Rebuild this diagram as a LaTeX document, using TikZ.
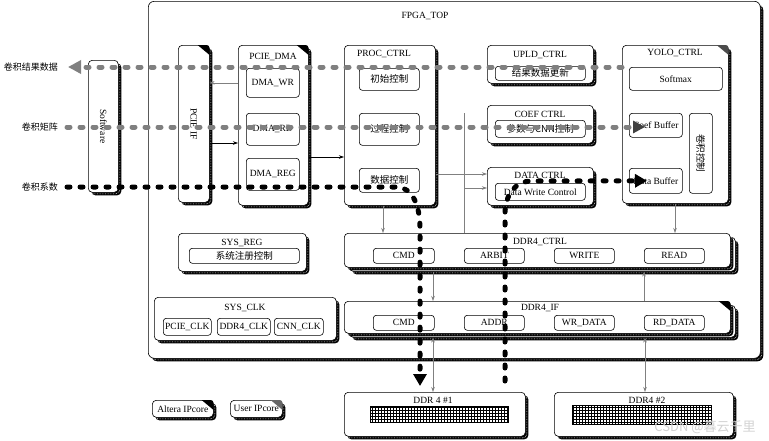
\documentclass[tikz,border=0pt]{standalone}
\usepackage{fontspec}
\setmainfont{Liberation Serif}
\newfontfamily\cjk{Noto Sans CJK SC}
\usepackage{tikz}
\usetikzlibrary{arrows.meta, positioning, shadows, patterns, calc}

% marca de IP en la esquina
\newcommand{\ipmark}[2]{%
  \fill[#2] ([xshift=-12pt]#1.north east) -- ([xshift=-3pt]#1.north east)
    to[out=0,in=90] ([yshift=-3pt]#1.north east) -- ([yshift=-10pt]#1.north east) -- cycle;}

\begin{document}
\begin{tikzpicture}[x=1pt, y=-1pt,
    font=\fontsize{9.5}{11}\selectfont,
    shd/.style={general shadow={shadow xshift=3pt, shadow yshift=-3pt, fill=black},
                general shadow={shadow xshift=1.5pt, shadow yshift=-1.5pt, draw=white, densely dotted, line width=0.6pt}},
    sz/.style 2 args={minimum width=#1pt, minimum height=#2pt},
    blk/.style={draw, line width=0.6pt, rounded corners=4pt, fill=white, shd, anchor=north west, inner sep=0pt},
    sub/.style={draw, line width=0.6pt, rounded corners=3pt, fill=white, anchor=north west, inner sep=0pt},
    ttl/.style={inner sep=0pt},
    garr/.style={draw=gray, line width=0.6pt, -{Stealth[length=5pt,width=3.5pt]}},
    barr/.style={draw=black, line width=0.6pt, -{Stealth[length=5pt,width=3.5pt]}},
    flow/.style={line width=5pt, line cap=round, dash pattern=on 3pt off 10pt},
]
\useasboundingbox (0,0) rectangle (769,440);

% Bloque principal
\node[blk, sz={612}{357}, rounded corners=6pt] (top) at (148,1) {};
\node[ttl] (topt) at (425,16) {FPGA\_TOP};

% Etiquetas de la izquierda
\node[ttl, anchor=east, font=\cjk\fontsize{9}{10}\selectfont] (lab1) at (58,67) {卷积结果数据};
\node[ttl, anchor=east, font=\cjk\fontsize{9}{10}\selectfont] (lab2) at (58,127) {卷积矩阵};
\node[ttl, anchor=east, font=\cjk\fontsize{9}{10}\selectfont] (lab3) at (58,187) {卷积系数};

% Software y PCIE
\node[blk, sz={30}{132}] (sw) at (88,60) {};
\node[ttl, rotate=-90] (swt) at (sw.center) {Software};
\node[blk, sz={31}{157}] (pcie) at (178,45) {};
\node[ttl, rotate=-90] (pciet) at (pcie.center) {PCIE IF};
\ipmark{pcie}{black}

\node[blk, sz={70}{160}] (dma) at (238,45) {};
\node[ttl] (dmat) at (273,57) {PCIE\_DMA};
\ipmark{dma}{black}
\node[sub, sz={53}{29}] (dmawr) at (246,68) {DMA\_WR};
\node[sub, sz={53}{32}] (dmard) at (246,113) {DMA\_RD};
\node[sub, sz={53}{32}] (dmareg) at (246,158) {DMA\_REG};

% PROC_CTRL
\node[blk, sz={91}{160}] (proc) at (344,45) {};
\node[ttl] (proct) at (384,54) {PROC\_CTRL};
\node[sub, sz={60}{22}, font=\cjk\fontsize{9.5}{11}\selectfont] (init) at (359,68) {初始控制};
\node[sub, sz={60}{32}, font=\cjk\fontsize{9.5}{11}\selectfont] (prcs) at (359,113) {过程控制};
\node[sub, sz={60}{24}, font=\cjk\fontsize{9.5}{11}\selectfont] (dctl) at (359,168) {数据控制};

% Controladores intermedios
\node[blk, sz={106}{38}] (upld) at (487,45) {};
\node[ttl] (upldt) at (540,55) {UPLD\_CTRL};
\node[sub, sz={90}{14}, font=\cjk\fontsize{9.5}{11}\selectfont] (upldi) at (495,66) {结果数据更新};
\node[blk, sz={106}{38}] (coef) at (487,105) {};
\node[ttl] (coeft) at (540,114) {COEF CTRL};
\node[sub, sz={90}{17}, font=\cjk\fontsize{9.5}{11}\selectfont] (coefi) at (495,120) {参数与CNN控制};
\node[blk, sz={106}{38}] (data) at (487,167) {};
\node[ttl] (datat) at (540,175) {DATA CTRL};
\node[sub, sz={90}{17}] (datai) at (495,183) {Data Write Control};

% YOLO_CTRL
\node[blk, sz={106}{158}] (yolo) at (622,45) {};
\node[ttl] (yolot) at (675,53) {YOLO\_CTRL};
\ipmark{yolo}{black!70}
\node[sub, sz={93}{23}] (smax) at (629,67) {Softmax};
\node[sub, sz={53}{24}] (cbuf) at (629,113) {Coef Buffer};
\node[sub, sz={53}{25}] (dbuf) at (629,168) {Data Buffer};
\node[sub, sz={23}{80}] (cnv) at (689,113) {};
\node[ttl, rotate=-90, font=\cjk\fontsize{9.5}{11}\selectfont] (cnvt) at (cnv.center) {卷积控制};

% SYS_REG y SYS_CLK
\node[blk, sz={128}{38}] (sreg) at (178,233) {};
\node[ttl] (sregt) at (242,243) {SYS\_REG};
\node[sub, sz={110}{15}, font=\cjk\fontsize{9.5}{11}\selectfont] (sregi) at (189,248) {系统注册控制};
\node[blk, sz={182}{43}] (sclk) at (154,297) {};
\node[ttl] (sclkt) at (245,308) {SYS\_CLK};
\node[sub, sz={48}{17}] (pclk) at (163,318) {PCIE\_CLK};
\node[sub, sz={53}{17}] (dclk) at (217,318) {DDR4\_CLK};
\node[sub, sz={49}{17}] (cclk) at (274,318) {CNN\_CLK};

% DDR4 CTRL / IF
\node[blk, sz={386}{34}] (ctrlbk) at (349,237) {};
\node[blk, sz={386}{34}] (ctrl) at (344,233) {};
\node[ttl] (ctrlt) at (540,242) {DDR4\_CTRL};
\node[sub, sz={61}{15}] (cmda) at (373,248) {CMD};
\node[sub, sz={60}{15}] (arb) at (464,248) {ARBIT};
\node[sub, sz={60}{15}] (wrt) at (554,248) {WRITE};
\node[sub, sz={60}{15}] (rd) at (644,248) {READ};

\node[blk, sz={386}{32}] (ifbk) at (349,305) {};
\node[blk, sz={386}{32}] (ddrif) at (344,301) {};
\ipmark{ddrif}{black}
\node[ttl] (ddrift) at (540,308) {DDR4\_IF};
\node[sub, sz={61}{15}] (cmdb) at (373,315) {CMD};
\node[sub, sz={60}{15}] (addr) at (464,315) {ADDR};
\node[sub, sz={60}{15}] (wrd) at (554,315) {WR\_DATA};
\node[sub, sz={60}{15}] (rdd) at (644,315) {RD\_DATA};

% Memorias externas
\node[blk, sz={181}{44}] (mem1) at (344,392) {};
\node[ttl] (mem1t) at (433,400) {DDR 4 \#1};
\draw[pattern=grid, line width=0.5pt] (370,406) rectangle (508,422);
\node[blk, sz={179}{44}] (mem2) at (554,392) {};
\node[ttl] (mem2t) at (647,400) {DDR4 \#2};
\draw[pattern=grid, line width=0.5pt] (572,405) rectangle (711,424);

% Leyenda
\node[blk, sz={61}{17}] (alt) at (152,400) {Altera IPcore};
\ipmark{alt}{black}
\node[blk, sz={52}{17}] (usr) at (230,400) {User IPcore};
\ipmark{usr}{black!60}

% Conexiones finas
\draw[garr] (dmawr.west -| dma.west) -- (dmawr.west -| pcie.east);
\draw[barr] (pcie.east |- 0,143) -- (dma.west |- 0,143);
\draw[barr] (dma.east |- 0,157) -- (proc.west |- 0,157);
\draw[garr] (proc.east |- 0,174) -- (data.west |- 0,174);
\draw[gray, line width=0.6pt] (464,113) -- (464,233);
\draw[garr] (464,188) -- (data.west |- 0,188);
\draw[garr] (proc.south -| 383,0) -- (ctrl.north -| 383,0);
\draw[garr] (yolo.south -| 675,0) -- (ctrl.north -| 675,0);
\draw[garr] (ctrlbk.south -| 433,0) -- (ddrif.north -| 433,0);
\draw[garr] (ddrif.north -| 644,0) -- (ctrlbk.south -| 644,0);
\draw[garr, {Stealth[length=5pt,width=3.5pt]}-{Stealth[length=5pt,width=3.5pt]}] (ifbk.south -| 433,0) -- (mem1.north -| 433,0);
\draw[garr, {Stealth[length=5pt,width=3.5pt]}-{Stealth[length=5pt,width=3.5pt]}] (ifbk.south -| 645,0) -- (mem2.north -| 645,0);

% Flujos de datos
\coordinate (restip) at (68,67);
\draw[flow, gray, -{Triangle[length=13pt,width=13pt]}] (yolo.west |- lab1.east) -- (restip);
\draw[flow, gray, -{Triangle[length=12pt,width=12pt,color=black!75]}] ([xshift=9pt]lab2.east) -- ($(lab2.east -| cbuf.west)+(16,0)$);
\coordinate (b1) at (398,187);
\coordinate (b2) at (420,228);
\coordinate (d1tip) at (420,386);
\draw[flow, black, -{Triangle[length=12pt,width=13pt]}] ([xshift=9pt]lab3.east) -- (b1) .. controls (412,188) and (420,205) .. (b2) -- (d1tip);
\coordinate (c0) at (505,381);
\coordinate (c1) at (505,214);
\coordinate (c2) at (532,181);
\draw[flow, black, -{Triangle[length=12pt,width=13pt]}] (c0) -- (c1) .. controls (505,195) and (515,181) .. (c2) -- ($(dbuf.west)+(18,0)$);

% Marca de agua
\node[ttl, text=gray!35, font=\cjk\fontsize{13}{14}\selectfont] (wm) at (705,427) {CSDN @暮云千里};
\end{tikzpicture}
\end{document}
